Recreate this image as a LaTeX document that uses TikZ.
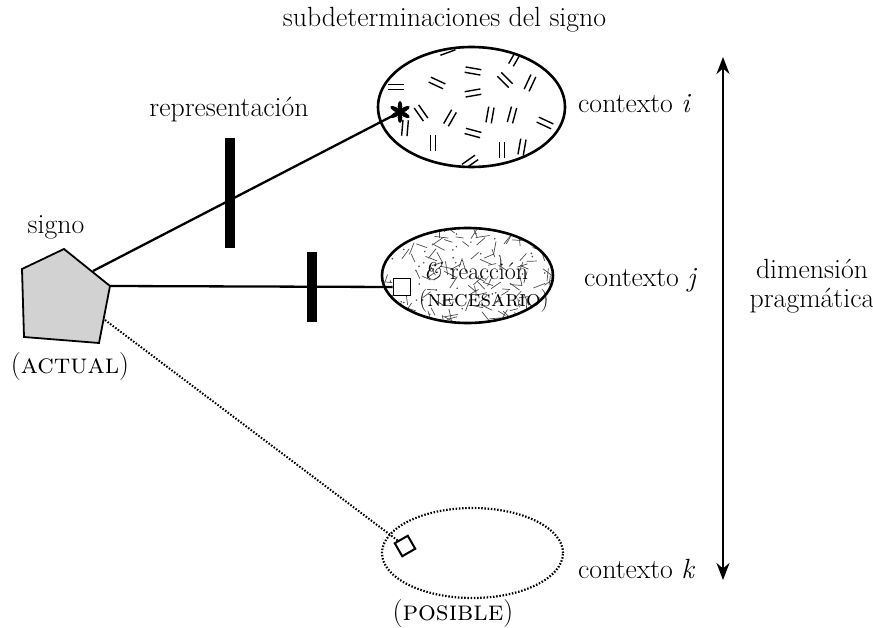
\documentclass[tikz,border=0pt]{standalone}
\usepackage{fontspec}
\usetikzlibrary{arrows.meta,shapes.geometric,calc}
\newcommand\pairmark[3]{%
  \begin{scope}[shift={(#1,#2)},rotate=#3]
    \draw[line width=1.4pt] (-8,-2.7)--(8,-2.7) (-8,2.7)--(8,2.7);
  \end{scope}}
\begin{document}
\begin{tikzpicture}[x=1pt,y=-1pt,
  lbl/.style={font=\fontsize{27.8}{29}\selectfont, inner sep=0},
  sclbl/.style={font=\fontsize{28}{30}\selectfont, inner sep=0},
  conn/.style={line width=2.3pt},
  barmark/.style={line width=9.5pt},
  ctx/.style={ellipse, draw, line width=2.6pt, inner sep=0}]
\useasboundingbox (0,0) rectangle (873,628);

% ellipse i texture
\begin{scope}
  \clip (471.5,107) ellipse [x radius=93, y radius=59];
  \pairmark{473}{71}{-10}
  \pairmark{505}{80}{-45}
  \pairmark{530}{83}{65}
  \pairmark{515}{58}{60}
  \pairmark{396}{87}{0}
  \pairmark{437}{83}{-25}
  \pairmark{473}{93}{10}
  \pairmark{421}{113}{-55}
  \pairmark{450}{118}{60}
  \pairmark{490}{115}{80}
  \pairmark{512}{115}{75}
  \pairmark{545}{123}{-25}
  \pairmark{473}{133}{-15}
  \pairmark{433}{143}{90}
  \pairmark{502}{150}{90}
  \pairmark{522}{147}{80}
  \pairmark{470}{162}{35}
  \pairmark{447}{50}{20}
  \pairmark{405}{128}{85}
\end{scope}
\node[ctx, minimum width=187, minimum height=120] (ei) at (471.5,107) {};

% ellipse j texture
\begin{scope}
  \clip (467.5,275.5) ellipse [x radius=85, y radius=47];
  \pgfmathsetseed{11}
  \foreach \n in {1,...,150}{
    \pgfmathsetmacro\xx{467.5+88*rand}
    \pgfmathsetmacro\yy{275.5+50*rand}
    \pgfmathsetmacro\aa{180*rand}
    \pgfmathsetmacro\ll{4+3*rnd}
    \draw[line width=0.7pt, black!70, shift={(\xx,\yy)}, rotate=\aa] (-\ll,0)--(\ll,0);
  }
  \foreach \n in {1,...,60}{
    \pgfmathsetmacro\xx{467.5+88*rand}
    \pgfmathsetmacro\yy{275.5+50*rand}
    \fill[black!70] (\xx,\yy) circle (0.9);
  }
\end{scope}
\node[ctx, minimum width=171, minimum height=95] (ej) at (467.5,275.5) {};
\node[lbl, font=\fontsize{24}{26}\selectfont] (reac) at (476,271) {\textit{\&} reacción};
\node[sclbl, font=\fontsize{23}{26}\selectfont] (nec) at (484,301) {(\textsc{necesario})};

% ellipse k
\node[ellipse, draw, line width=2.2pt, dash pattern=on 1.5pt off 1.7pt, inner sep=0,
  minimum width=181, minimum height=90] (ek) at (472.5,553) {};

% pentagon sign
\coordinate (p1) at (64,249);
\coordinate (p2) at (110,286);
\coordinate (p3) at (99,343);
\coordinate (p4) at (24,337);
\coordinate (p5) at (22,269);
\draw[fill=gray!35, line width=1.8pt, line join=miter] (p1) -- (p2) -- (p3) -- (p4) -- (p5) -- cycle;
\coordinate (sA) at (93,271);
\coordinate (sD) at (105,320);

% markers
\coordinate (ast) at (400,112);
\node[draw, line width=1.7pt, fill=white, minimum size=17, inner sep=0] (sq) at (402,287) {};
\node[draw, line width=2pt, fill=white, minimum size=15, inner sep=0, rotate=30] (dm) at (405,546) {};

% connectors
\draw[conn] (sA) -- (ast);
\draw[conn] (p2) -- (sq.west);
\draw[line width=2pt, dash pattern=on 1.5pt off 1.7pt] (sD) -- (dm);

% asterisk
\foreach \a in {90,30,-30,-90,150,210}{
  \fill[shift={(ast)}, rotate=\a] (5.5,0) ellipse [x radius=5.5, y radius=2.3];
}

% bars
\coordinate (b1t) at (230,138); \coordinate (b1b) at (230,248);
\coordinate (b2t) at (312,252); \coordinate (b2b) at (312,322);
\draw[barmark] (b1t) -- (b1b);
\draw[barmark] (b2t) -- (b2b);

% arrow
\coordinate (ta) at (723,57);
\coordinate (tb) at (723,580);
\draw[line width=2.3pt, {Stealth[length=17pt,width=13pt]}-{Stealth[length=17pt,width=13pt]}] (ta) -- (tb);

% labels
\node[lbl] (title) at (444.5,20) {subdeterminaciones del signo};
\node[lbl] (repr) at (229,110) {representación};
\node[lbl] (signo) at (56,227) {signo};
\node[sclbl] (actual) at (70,367) {(\textsc{actual})};
\node[lbl, anchor=west] (ci) at (578,104) {contexto \textit{i}};
\node[lbl, anchor=west] (cj) at (584,280) {contexto \textit{j}};
\node[lbl, anchor=west] (ck) at (578,569) {contexto \textit{k}};
\node[lbl, align=center] (dim) at (812,286) {dimensión\\pragmática};
\node[sclbl] (pos) at (453,614) {(\textsc{posible})};
\end{tikzpicture}
\end{document}
